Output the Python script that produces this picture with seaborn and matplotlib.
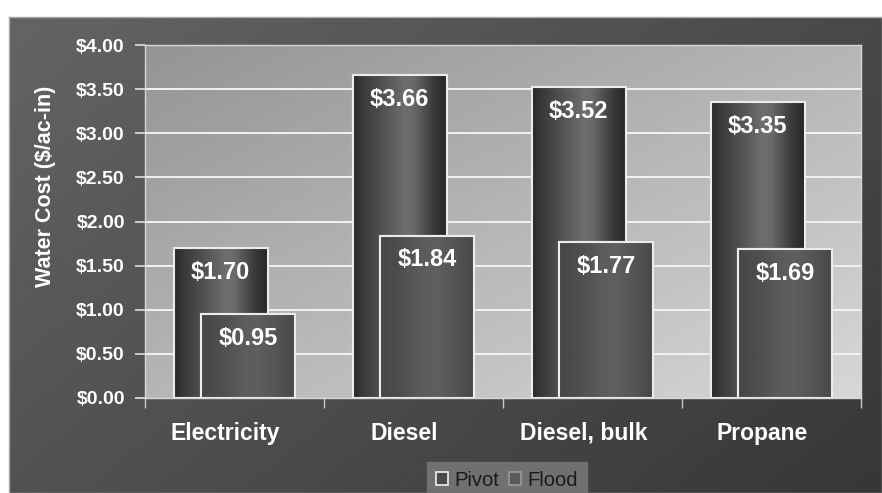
import numpy as np
import pandas as pd
import matplotlib
matplotlib.use("Agg")
import matplotlib.pyplot as plt
import matplotlib.transforms as mtransforms
from matplotlib.patches import Patch, Rectangle
import seaborn as sns

# ---- data ----
categories = ["Electricity", "Diesel", "Diesel, bulk", "Propane"]
pivot = [1.70, 3.66, 3.52, 3.35]
flood = [0.95, 1.84, 1.77, 1.69]
series_names = ["Pivot", "Flood"]
y_ticks = [0.0, 0.5, 1.0, 1.5, 2.0, 2.5, 3.0, 3.5, 4.0]
y_label = "Water Cost ($/ac-in)"

sns.set_theme(style="white")
plt.rcParams["font.family"] = ["Liberation Sans", "DejaVu Sans"]

W, H = 882, 493
fig = plt.figure(figsize=(W / 100, H / 100), dpi=100, facecolor="white")

# ---- dark panel background with gradient ----
bg = fig.add_axes([9 / W, 0, 1 - 9 / W, 476 / H], zorder=-10)
gx, gy = np.meshgrid(np.linspace(0, 1, 200), np.linspace(0, 1, 200))
panel = 100 - 45 * (0.6 * gx + 0.4 * gy)
bg.imshow(panel, cmap="gray", vmin=0, vmax=255, aspect="auto",
          extent=[0, 1, 0, 1], origin="upper")
bg.set_xlim(0, 1); bg.set_ylim(0, 1)
bg.set_xticks([]); bg.set_yticks([])
for s in bg.spines.values():
    s.set_color("#a8a8a8"); s.set_linewidth(1.0)

# ---- main axes ----
ax = fig.add_axes([145 / W, (H - 398) / H, 716 / W, 353 / H])
ax.set_facecolor("none")

# plot area gradient
area = 148 + 67 * (0.5 * gx + 0.5 * gy)
ax.imshow(area, cmap="gray", vmin=0, vmax=255, aspect="auto",
          extent=[-0.5, 3.5, 0, 4], origin="upper", zorder=0)

for v in y_ticks[1:]:
    ax.axhline(v, color="#f2f2f2", lw=1.4, zorder=0.5)

bar_w = 0.525
offset = 0.078


def draw_series(values, shift, color, prof_x, prof_v, z):
    n0 = len(ax.patches)
    sns.barplot(x=categories, y=values, width=bar_w, color=color,
                saturation=1, ax=ax, zorder=z)
    new = ax.patches[n0:]
    xs = np.linspace(0, 1, 200)
    prof = np.interp(xs, prof_x, prof_v)[None, :]
    for p in new:
        p.set_x(p.get_x() + shift)
        p.set_edgecolor("#ececec")
        p.set_linewidth(1.5)
        p.set_zorder(z)
        x0 = p.get_x(); x1 = x0 + p.get_width(); h = p.get_height()
        im = ax.imshow(prof, cmap="gray", vmin=0, vmax=255, aspect="auto",
                       extent=[x0, x1, 0, h], zorder=z + 0.05)
        im.set_clip_path(p)
        ax.add_patch(Rectangle((x0, 0), x1 - x0, h, fill=False,
                               edgecolor="#ececec", lw=1.5, zorder=z + 0.1))
    return new


pv = draw_series(pivot, -offset, "#505050",
                 [0, 0.08, 0.3, 0.55, 0.65, 0.85, 1.0],
                 [40, 55, 80, 110, 105, 60, 38], 2)
fl = draw_series(flood, offset, "#555555",
                 [0, 0.2, 0.45, 0.6, 0.8, 1.0],
                 [70, 78, 92, 95, 85, 72], 3)

# value labels
for i, v in enumerate(pivot):
    ax.annotate(f"${v:.2f}", (i - offset, v), xytext=(0, -17.5),
                textcoords="offset points", ha="center", va="center",
                color="white", fontsize=17, fontweight="bold", zorder=5)
for i, v in enumerate(flood):
    ax.annotate(f"${v:.2f}", (i + offset, v), xytext=(0, -17.5),
                textcoords="offset points", ha="center", va="center",
                color="white", fontsize=17, fontweight="bold", zorder=5)

ax.set_xlim(-0.5, 3.5)
ax.set_ylim(0, 4)
ax.set_yticks(y_ticks)
ax.set_yticklabels([f"${v:.2f}" for v in y_ticks])
ax.set_xticks(range(len(categories)))
ax.set_xticklabels(categories)
ax.set_xticks(np.arange(-0.5, len(categories), 1.0), minor=True)
ax.tick_params(axis="y", which="major", direction="out", length=7, width=1.2,
               color="#e0e0e0", labelcolor="white", labelsize=14, pad=7.5,
               left=True)
ax.tick_params(axis="x", which="major", length=0, labelcolor="white",
               labelsize=16.5, pad=17, bottom=True)
ax.tick_params(axis="x", which="minor", direction="out", length=7, width=1.0,
               color="#c8c8c8", bottom=True)
shift_left = mtransforms.ScaledTranslation(-9 / 100, 0, fig.dpi_scale_trans)
for lab in ax.get_xticklabels():
    lab.set_fontweight("bold")
    lab.set_transform(lab.get_transform() + shift_left)
for lab in ax.get_yticklabels():
    lab.set_fontweight("bold")
for s in ax.spines.values():
    s.set_visible(True)
    s.set_color("#d8d8d8")
    s.set_linewidth(1.0)
    s.set_zorder(6)

ax.set_xlabel("")
ax.set_ylabel(y_label, color="white", fontsize=15.5, fontweight="bold")
ax.yaxis.set_label_coords(-0.124, 0.6)

handles = [Patch(facecolor="#4a4a4a", edgecolor="#f0f0f0", lw=1.2, label=series_names[0]),
           Patch(facecolor="#5a5a5a", edgecolor="#9a9a9a", lw=1.2, label=series_names[1])]
leg = fig.legend(handles=handles, loc="lower center", bbox_to_anchor=(0.575, -0.012),
                 ncol=2, frameon=True, fancybox=False, facecolor="#707070",
                 edgecolor="#707070", fontsize=14.5, handlelength=0.6,
                 handleheight=0.6, handletextpad=0.3, columnspacing=0.5,
                 borderpad=0.45, borderaxespad=0)
for t in leg.get_texts():
    t.set_color("#1a1a1a")
leg.get_frame().set_alpha(1)

fig.savefig("out.png", dpi=100, facecolor="white")
